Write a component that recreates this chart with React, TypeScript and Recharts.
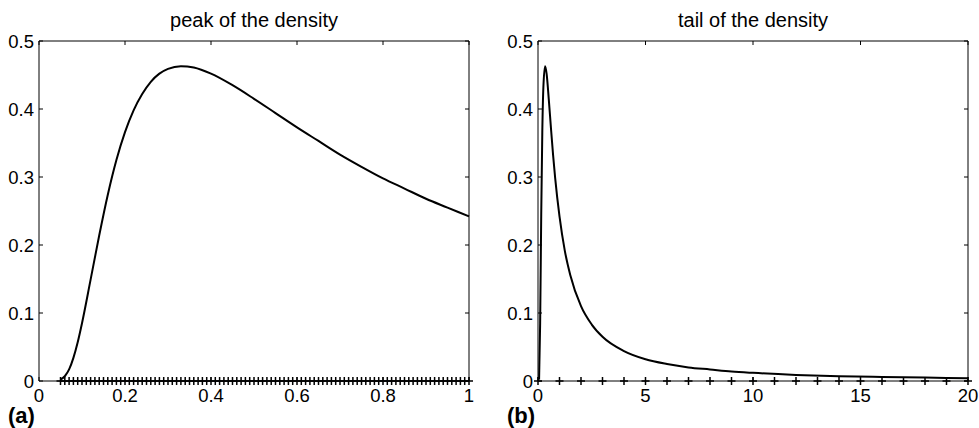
import { ComposedChart, Line, XAxis, YAxis } from "recharts";

const font = "'Liberation Sans', Arial, Helvetica, sans-serif";

// panel (a): peak of the density
const peakX = [
  0.05, 0.06, 0.07, 0.08, 0.09, 0.1, 0.12, 0.14, 0.16, 0.18, 0.2, 0.22, 0.24, 0.26, 0.28, 0.3,
  0.33, 0.36, 0.4, 0.45, 0.5, 0.55, 0.6, 0.65, 0.7, 0.75, 0.8, 0.85, 0.9, 0.95, 1.0,
];
const peakY = [
  0.002, 0.007, 0.017, 0.034, 0.057, 0.085, 0.149, 0.214, 0.274, 0.325, 0.366, 0.398, 0.422,
  0.44, 0.452, 0.459, 0.463, 0.461, 0.452, 0.435, 0.415, 0.394, 0.373, 0.353, 0.333, 0.315,
  0.298, 0.283, 0.268, 0.255, 0.242,
];
const peakMarks = [
  0.05, 0.06, 0.07, 0.08, 0.09, 0.1, 0.11, 0.12, 0.13, 0.14, 0.15, 0.16, 0.17, 0.18, 0.19, 0.2,
  0.21, 0.22, 0.23, 0.24, 0.25, 0.26, 0.27, 0.28, 0.29, 0.3, 0.31, 0.32, 0.33, 0.34, 0.35, 0.36,
  0.37, 0.38, 0.39, 0.4, 0.41, 0.42, 0.43, 0.44, 0.45, 0.46, 0.47, 0.48, 0.49, 0.5, 0.51, 0.52,
  0.53, 0.54, 0.55, 0.56, 0.57, 0.58, 0.59, 0.6, 0.61, 0.62, 0.63, 0.64, 0.65, 0.66, 0.67, 0.68,
  0.69, 0.7, 0.71, 0.72, 0.73, 0.74, 0.75, 0.76, 0.77, 0.78, 0.79, 0.8, 0.81, 0.82, 0.83, 0.84,
  0.85, 0.86, 0.87, 0.88, 0.89, 0.9, 0.91, 0.92, 0.93, 0.94, 0.95, 0.96, 0.97, 0.98, 0.99, 1.0,
];
const peakTicks = [0, 0.2, 0.4, 0.6, 0.8, 1];

// panel (b): tail of the density
const tailX = [
  0.05, 0.1, 0.15, 0.2, 0.25, 0.33, 0.4, 0.5, 0.6, 0.7, 0.8, 1, 1.25, 1.5, 2, 2.5, 3, 4, 5, 6, 7,
  8, 9, 10, 12, 14, 16, 18, 20,
];
const tailY = [
  0.002, 0.085, 0.245, 0.366, 0.432, 0.463, 0.452, 0.415, 0.373, 0.333, 0.298, 0.242, 0.191,
  0.156, 0.11, 0.083, 0.065, 0.044, 0.032, 0.025, 0.02, 0.017, 0.014, 0.012, 0.009, 0.007, 0.006,
  0.005, 0.004,
];
const tailMarks = [0, 1, 2, 3, 4, 5, 6, 7, 8, 9, 10, 11, 12, 13, 14, 15, 16, 17, 18, 19, 20];
const tailTicks = [0, 5, 10, 15, 20];

const yTicks = [0, 0.1, 0.2, 0.3, 0.4, 0.5];

const CHART_H = 428;
const TOP = 41;
const BOTTOM = 47;
const TICK_LEN = 4;

function BottomTick({ x, y, payload }: any) {
  return (
    <g>
      <line x1={x} x2={x} y1={y} y2={y - TICK_LEN} stroke="#000" />
      <text x={x} y={y + 21} textAnchor="middle" fontSize={18.5} fontFamily={font} fill="#000">
        {String(payload.value)}
      </text>
    </g>
  );
}

function TopTick({ x, y }: any) {
  return <line x1={x} x2={x} y1={y} y2={y + TICK_LEN} stroke="#000" />;
}

function LeftTick({ x, y, payload }: any) {
  return (
    <g>
      <line x1={x} x2={x + TICK_LEN} y1={y} y2={y} stroke="#000" />
      <text x={x - 5} y={y + 6.5} textAnchor="end" fontSize={18.5} fontFamily={font} fill="#000">
        {String(payload.value)}
      </text>
    </g>
  );
}

function RightTick({ x, y }: any) {
  return <line x1={x} x2={x - TICK_LEN} y1={y} y2={y} stroke="#000" />;
}

function PlusDot({ cx, cy, index }: any) {
  return (
    <path
      key={index}
      d={`M${cx - 4},${cy}H${cx + 4}M${cx},${cy - 4}V${cy + 4}`}
      stroke="#000"
      strokeWidth={1.5}
      fill="none"
    />
  );
}

function Panel({
  left,
  width,
  axisW,
  right,
  xMax,
  xTicks,
  xs,
  ys,
  marks,
  title,
  tag,
}: {
  left: number;
  width: number;
  axisW: number;
  right: number;
  xMax: number;
  xTicks: number[];
  xs: number[];
  ys: number[];
  marks: number[];
  title: string;
  tag: string;
}) {
  const curve = xs.map((x, i) => ({ x, y: ys[i] }));
  const markData = marks.map((x) => ({ x, y: 0 }));
  const plotW = width - axisW - right;
  return (
    <div style={{ position: "absolute", left, top: 0, width, height: CHART_H }}>
      <ComposedChart
        width={width}
        height={CHART_H}
        margin={{ top: TOP - 1, right: right - 1, left: 0, bottom: 0 }}
      >
        <XAxis
          xAxisId="b"
          type="number"
          dataKey="x"
          domain={[0, xMax]}
          ticks={xTicks}
          interval={0}
          height={BOTTOM}
          tickSize={0}
          tickMargin={0}
          tickLine={false}
          axisLine={{ stroke: "#000" }}
          tick={<BottomTick />}
        />
        <XAxis
          xAxisId="t"
          orientation="top"
          type="number"
          dataKey="x"
          domain={[0, xMax]}
          ticks={xTicks}
          interval={0}
          height={1}
          tickSize={0}
          tickMargin={0}
          tickLine={false}
          axisLine={{ stroke: "#000" }}
          tick={<TopTick />}
        />
        <YAxis
          yAxisId="l"
          type="number"
          domain={[0, 0.5]}
          ticks={yTicks}
          interval={0}
          width={axisW}
          tickSize={0}
          tickMargin={0}
          tickLine={false}
          axisLine={{ stroke: "#000" }}
          tick={<LeftTick />}
        />
        <YAxis
          yAxisId="r"
          orientation="right"
          type="number"
          domain={[0, 0.5]}
          ticks={yTicks}
          interval={0}
          width={1}
          tickSize={0}
          tickMargin={0}
          tickLine={false}
          axisLine={{ stroke: "#000" }}
          tick={<RightTick />}
        />
        <Line
          xAxisId="t"
          yAxisId="r"
          data={curve}
          dataKey="y"
          stroke="none"
          dot={false}
          activeDot={false}
          isAnimationActive={false}
        />
        <Line
          xAxisId="b"
          yAxisId="l"
          data={markData}
          dataKey="y"
          stroke="none"
          dot={PlusDot}
          activeDot={false}
          isAnimationActive={false}
        />
        <Line
          xAxisId="b"
          yAxisId="l"
          data={curve}
          dataKey="y"
          type="monotone"
          stroke="#000"
          strokeWidth={2}
          dot={false}
          activeDot={false}
          isAnimationActive={false}
        />
      </ComposedChart>
      <div
        style={{
          position: "absolute",
          left: axisW,
          width: plotW,
          top: 10,
          textAlign: "center",
          fontFamily: font,
          fontSize: 20,
          lineHeight: "20px",
          whiteSpace: "nowrap",
        }}
      >
        {title}
      </div>
      <div
        style={{
          position: "absolute",
          left: axisW - 31,
          top: 405,
          fontFamily: font,
          fontSize: 22,
          fontWeight: "bold",
          lineHeight: "22px",
        }}
      >
        {tag}
      </div>
    </div>
  );
}

export default function App() {
  return (
    <div
      style={{
        position: "absolute",
        left: 0,
        top: 0,
        width: 979,
        height: 428,
        background: "#fff",
        overflow: "hidden",
      }}
    >
      <Panel
        left={0}
        width={490}
        axisW={39}
        right={21}
        xMax={1}
        xTicks={peakTicks}
        xs={peakX}
        ys={peakY}
        marks={peakMarks}
        title="peak of the density"
        tag="(a)"
      />
      <Panel
        left={490}
        width={489}
        axisW={48}
        right={11}
        xMax={20}
        xTicks={tailTicks}
        xs={tailX}
        ys={tailY}
        marks={tailMarks}
        title="tail of the density"
        tag="(b)"
      />
    </div>
  );
}
